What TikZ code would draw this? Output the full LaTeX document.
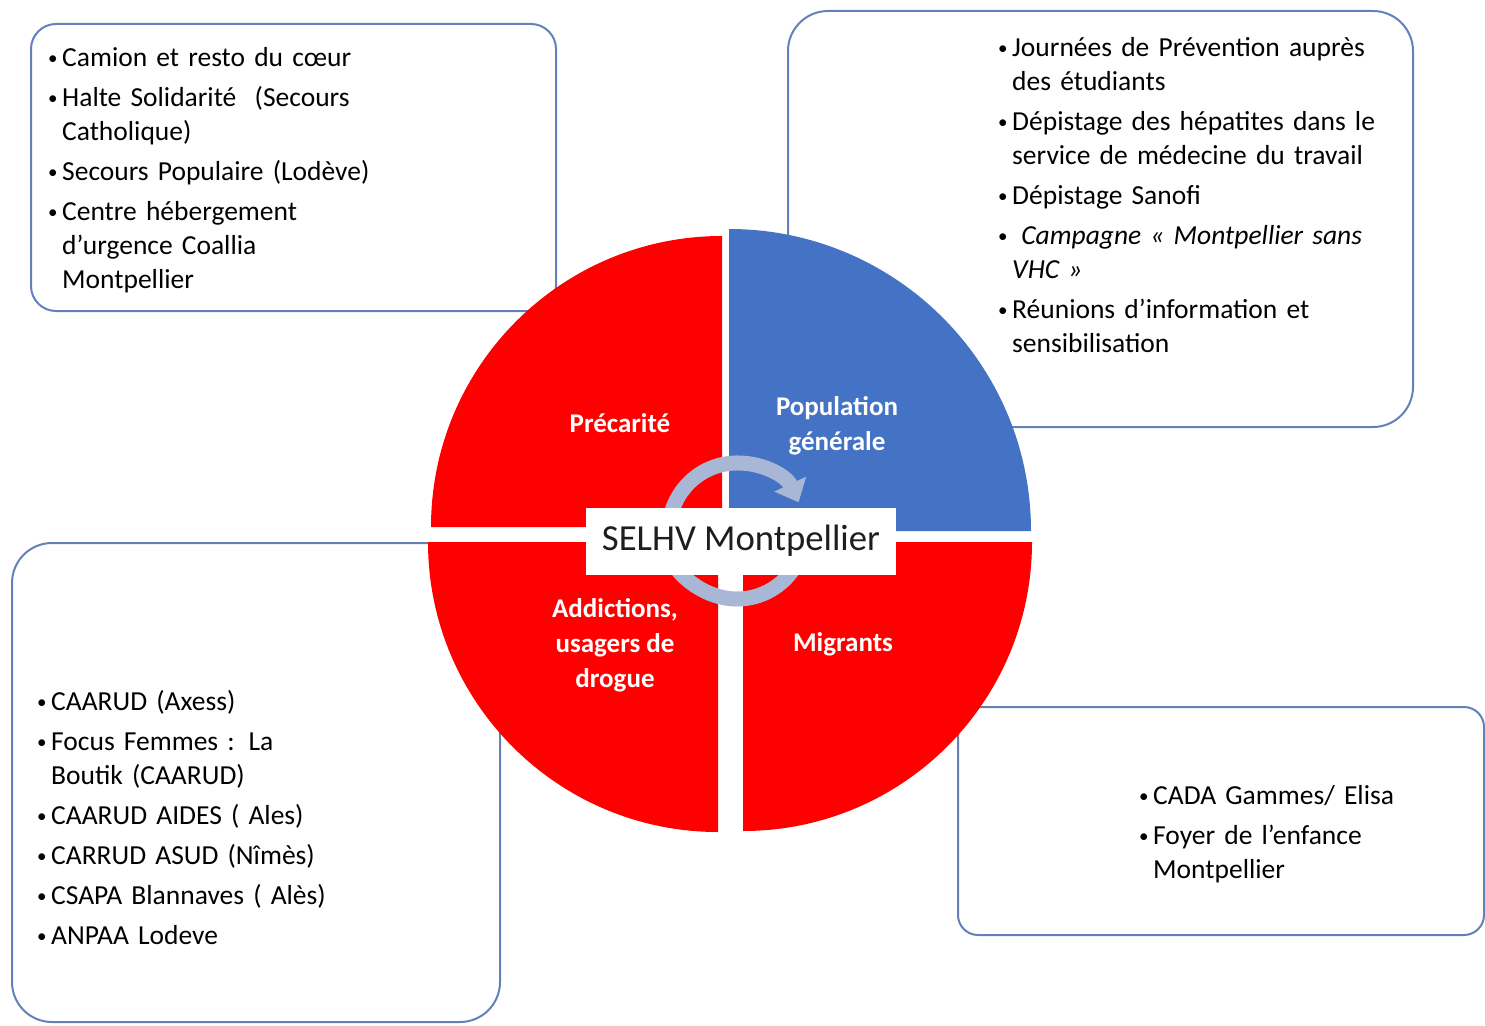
\documentclass[tikz,border=0pt]{standalone}
\usepackage{fontspec}
\setmainfont{Carlito}
\usetikzlibrary{arrows.meta}
\definecolor{boxline}{RGB}{100,128,185}
\definecolor{quadred}{RGB}{255,0,0}
\definecolor{quadblue}{RGB}{68,114,196}
\definecolor{ringblue}{RGB}{168,183,214}
\definecolor{hubtext}{RGB}{30,30,30}
\newcommand\pitem[1]{\hangindent=14pt\hangafter=1\noindent
  \hbox to 14pt{\raisebox{1.5pt}{\fontsize{19}{19}\selectfont\textbullet}\hfil}#1\par}

\begin{document}
\begin{tikzpicture}[x=1pt,y=-1pt,
  listbox/.style={draw=boxline,line width=2pt,rounded corners=#1},
  listtext/.style={anchor=north west,inner sep=0pt,text width=#1,
    font=\fontsize{27.5}{34}\selectfont},
  quarter/.style={text=white,align=center,font=\fontsize{27}{35}\selectfont\bfseries},
  ring/.style={draw=ringblue,line width=15pt},
  hub/.style={fill=white,minimum width=310pt,minimum height=67pt,inner sep=0pt,
    text=hubtext,font=\fontsize{36.7}{40}\selectfont}]
\useasboundingbox (0,0) rectangle (1485,1025);
% outer boxes
\draw [listbox=25pt] (31,24) rectangle (556,311);
\draw [listbox=40pt] (788,11) rectangle (1413,427);
\draw [listbox=40pt] (12,543) rectangle (500,1022);
\draw [listbox=20pt] (958,707) rectangle (1484,935);
% lists
\node [listtext=480pt] (precalist) at (48,47) {\setlength\parskip{6pt}\raggedright
  \pitem{Camion et resto du cœur}
  \pitem{Halte Solidarité~ (Secours\newline Catholique)}
  \pitem{Secours Populaire (Lodève)}
  \pitem{Centre hébergement\newline d’urgence Coallia\newline Montpellier}};
\node [listtext=400pt] (poplist) at (998,37) {\setlength\parskip{6pt}\raggedright
  \pitem{Journées de Prévention auprès\newline des étudiants}
  \pitem{Dépistage des hépatites dans le\newline service de médecine du travail}
  \pitem{Dépistage Sanofi}
  \pitem{\ \textit{Campagne «~Montpellier sans}\newline \textit{VHC~»}}
  \pitem{Réunions d’information et\newline sensibilisation}};
\node [listtext=440pt] (addlist) at (37,690) {\setlength\parskip{6pt}\raggedright
  \pitem{CAARUD (Axess)}
  \pitem{Focus Femmes : La\newline Boutik (CAARUD)}
  \pitem{CAARUD AIDES ( Ales)}
  \pitem{CARRUD ASUD (Nîmès)}
  \pitem{CSAPA Blannaves ( Alès)}
  \pitem{ANPAA Lodeve}};
\node [listtext=320pt] (migrlist) at (1139,785) {\setlength\parskip{6pt}\raggedright
  \pitem{CADA Gammes/ Elisa}
  \pitem{Foyer de l’enfance\newline Montpellier}};
% quarters
\fill [quadred] (722,527) -- ++(-291,0) arc[start angle=180,end angle=270,radius=291] -- cycle;
\fill [quadblue] (729,531) -- ++(0,-302) arc[start angle=270,end angle=360,radius=302] -- cycle;
\fill [quadred] (718,542) -- ++(-290,0) arc[start angle=180,end angle=90,radius=290] -- cycle;
\fill [quadred] (743,542) -- ++(289,0) arc[start angle=0,end angle=90,radius=289] -- cycle;
\node [quarter] (preca) at (620,423) {Précarité};
\node [quarter] (popgen) at (837,426) {Population\\générale};
\node [quarter] (addict) at (615,645) {Addictions,\\usagers de\\drogue};
\node [quarter] (migr) at (843,644) {Migrants};
% cycle arrows
\coordinate (hubc) at (737,531);
\draw [ring,-{Triangle[width=34pt,length=20pt]}] ([shift={(170:68)}]hubc) arc[start angle=170,end angle=335,radius=68];
\draw [ring,-{Triangle[width=34pt,length=20pt]}] ([shift={(10:68)}]hubc) arc[start angle=10,end angle=170,radius=68];
\node [hub] (selhv) at (741,541) {SELHV Montpellier};
\end{tikzpicture}
\end{document}
